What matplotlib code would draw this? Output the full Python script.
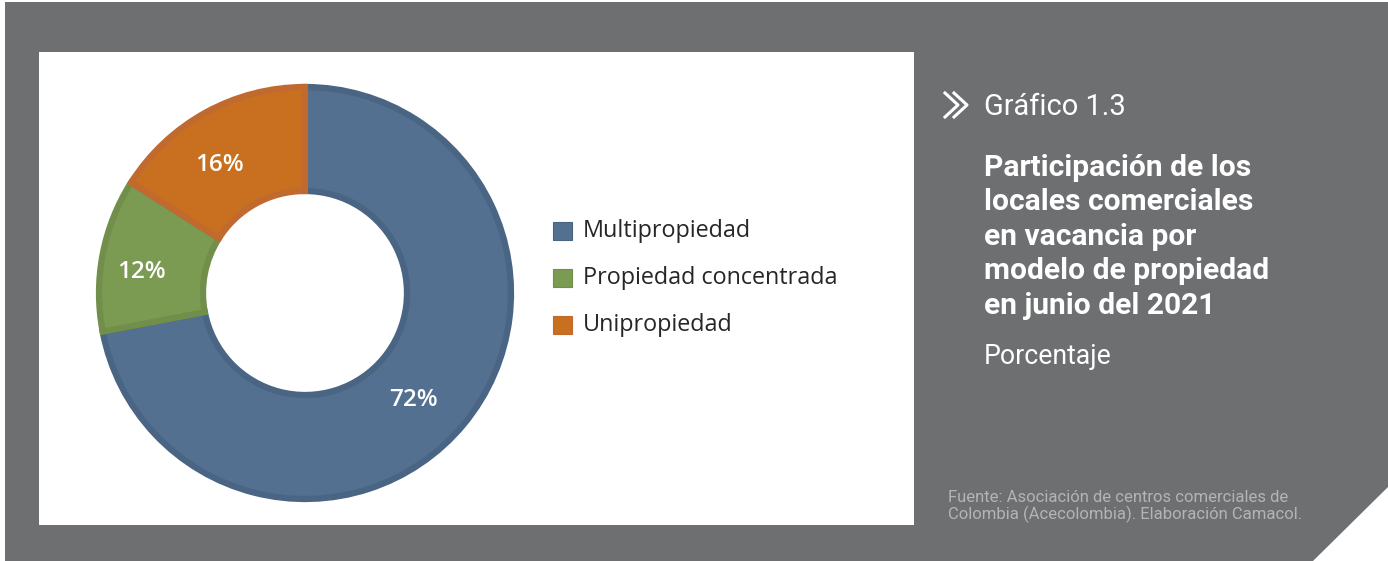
import matplotlib.pyplot as plt
import numpy as np
from matplotlib.patches import Rectangle, Polygon
from matplotlib.lines import Line2D

categorias = ['Multipropiedad', 'Propiedad concentrada', 'Unipropiedad']
valores = [72, 12, 16]
colores = ['#537090', '#7b9a52', '#c8701f']
bordes = ['#4a6483', '#718f4b', '#c06a30']

W, H = 1388, 561
fig = plt.figure(figsize=(W / 100, H / 100), dpi=100)
fig.patch.set_facecolor('white')

def px(x, y):
    # pixel coords (origin top-left) -> figure fraction
    return x / W, 1 - y / H

# fondo gris con esquina recortada
gris = '#6e6f71'
fondo = Polygon([px(5, 2), px(1388, 2), px(1388, 487), px(1313, 561), px(5, 561)],
                closed=True, transform=fig.transFigure, facecolor=gris, edgecolor='none')
fig.patches.append(fondo)

# panel blanco del grafico
x0, y0 = px(39, 525)
panel = Rectangle((x0, y0), 875 / W, 473 / H, transform=fig.transFigure,
                  facecolor='white', edgecolor='none')
fig.patches.append(panel)

# dona
cx, cy, R = 305, 293, 210
ax = fig.add_axes([(cx - R) / W, 1 - (cy + R) / H, 2 * R / W, 2 * R / H])
ax.set_zorder(5)
ax.patch.set_alpha(0)

wedges, _ = ax.pie(valores, colors=colores, startangle=90, counterclock=False,
                   radius=206 / R,
                   wedgeprops=dict(width=104 / R, linewidth=4.5, edgecolor='none'))
for w, b in zip(wedges, bordes):
    w.set_edgecolor(b)
ax.set_xlim(-1, 1)
ax.set_ylim(-1, 1)
ax.axis('off')

for w, v in zip(wedges, valores):
    ang = np.deg2rad((w.theta1 + w.theta2) / 2)
    ax.annotate(f'{v}%', (0.74 * np.cos(ang), 0.74 * np.sin(ang)),
                xytext=(-11, -5), textcoords='offset pixels', color='white',
                fontsize=17.5, family='Open Sans', fontweight='semibold',
                ha='center', va='center_baseline')

# leyenda
for i, (c, b, lab) in enumerate(zip(colores, bordes, categorias)):
    yy = 231 + 47 * i
    sx, sy = px(553, yy + 9)
    fig.patches.append(Rectangle((sx, sy), 19 / W, 18 / H, transform=fig.transFigure,
                                 facecolor=c, edgecolor=b, linewidth=0.8))
    tx, ty = px(583, yy)
    fig.text(tx, ty, lab, fontsize=16.8, family='Open Sans', color='#262626',
             ha='left', va='center')

# icono de flechas
for dx in (0, 9):
    xs = [945 + dx, 958 + dx, 945 + dx]
    ys = [93, 105, 117]
    fig.lines.append(Line2D([x / W for x in xs], [1 - y / H for y in ys],
                            transform=fig.transFigure, color='white', linewidth=2.2))

tx, ty = px(984, 107)
fig.text(tx, ty, 'Gráfico 1.3', fontsize=20.9, family='Roboto', color='white',
         ha='left', va='center')

titulo = ['Participación de los', 'locales comerciales', 'en vacancia por',
          'modelo de propiedad', 'en junio del 2021']
for i, linea in enumerate(titulo):
    tx, ty = px(984, 168 + 34.5 * i)
    fig.text(tx, ty, linea, fontsize=21.6, family='Roboto', fontweight='bold',
             color='white', ha='left', va='center')

tx, ty = px(984, 356)
fig.text(tx, ty, 'Porcentaje', fontsize=19.2, family='Roboto', color='white',
         ha='left', va='center')

fuente = ['Fuente: Asociación de centros comerciales de',
          'Colombia (Acecolombia). Elaboración Camacol.']
for i, linea in enumerate(fuente):
    tx, ty = px(948, 497 + 17 * i)
    fig.text(tx, ty, linea, fontsize=12, family='Roboto', color='#b3b4b6',
             ha='left', va='center')

fig.savefig('out.png', dpi=100, facecolor=fig.get_facecolor())
